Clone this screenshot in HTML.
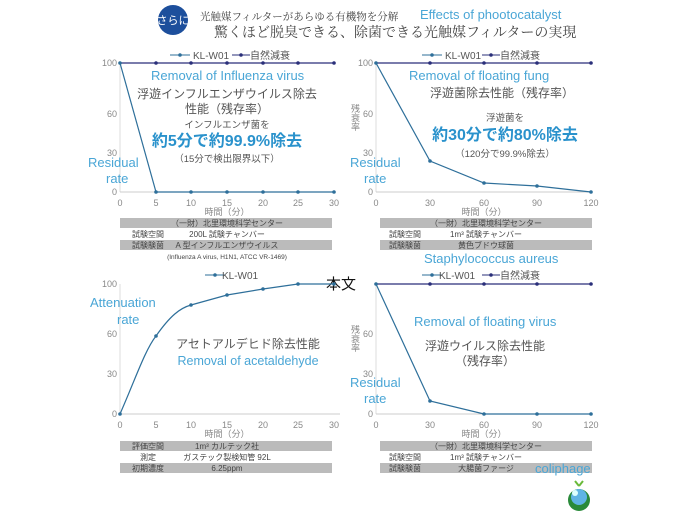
<!DOCTYPE html>
<html><head><meta charset="utf-8"><style>
body{margin:0;background:#fff}
svg{display:block;font-family:"Liberation Sans","Noto Sans CJK JP",sans-serif}
.t{fill:#888;font-size:9px}
.g{fill:#555}
.lb{fill:#4aa6d6}
</style></head><body>
<svg width="688" height="516" viewBox="0 0 688 516">
<circle cx="173" cy="20" r="15" fill="#1d4f9c"/>
<text x="173" y="24" font-size="11" fill="#fff" text-anchor="middle">さらに</text>
<text x="200" y="20" font-size="10.5" fill="#444" font-family="'Noto Serif CJK SC',serif">光触媒フィルターがあらゆる有機物を分解</text>
<text x="214" y="37" font-size="14" fill="#444" font-family="'Noto Serif CJK SC',serif">驚くほど脱臭できる、除菌できる光触媒フィルターの実現</text>
<text x="420" y="19" font-size="13" class="lb">Effects of phootocatalyst</text>

<!-- Chart 1 -->
<g>
<line x1="170" y1="55" x2="190" y2="55" stroke="#2e6f9a"/><circle cx="180" cy="55" r="1.8" fill="#2e6f9a"/>
<text x="193" y="59" font-size="10" class="g">KL-W01</text>
<line x1="232" y1="55" x2="250" y2="55" stroke="#2a2f7a"/><circle cx="241" cy="55" r="1.8" fill="#2a2f7a"/>
<text x="250" y="59" font-size="10" class="g">自然減衰</text>
<line x1="120" y1="63" x2="120" y2="192" stroke="#ddd"/>
<line x1="120" y1="192" x2="334" y2="192" stroke="#ccc"/>
<text x="117" y="66" class="t" text-anchor="end">100</text>
<text x="117" y="117" class="t" text-anchor="end">60</text>
<text x="117" y="156" class="t" text-anchor="end">30</text>
<text x="117" y="195" class="t" text-anchor="end">0</text>
<g class="t" text-anchor="middle"><text x="120" y="206">0</text><text x="156" y="206">5</text><text x="191" y="206">10</text><text x="227" y="206">15</text><text x="263" y="206">20</text><text x="298" y="206">25</text><text x="334" y="206">30</text><text x="227" y="215">時間（分）</text></g>
<polyline points="120,63 156,63 191,63 227,63 263,63 298,63 334,63" fill="none" stroke="#2a2f7a" stroke-width="1.2"/>
<polyline points="120,63 156,192 191,192 227,192 263,192 298,192 334,192" fill="none" stroke="#2e6f9a" stroke-width="1.2"/>
<g fill="#2a2f7a"><circle cx="156" cy="63" r="1.8"/><circle cx="191" cy="63" r="1.8"/><circle cx="227" cy="63" r="1.8"/><circle cx="263" cy="63" r="1.8"/><circle cx="298" cy="63" r="1.8"/><circle cx="334" cy="63" r="1.8"/></g>
<g fill="#2e6f9a"><circle cx="120" cy="63" r="1.8"/><circle cx="156" cy="192" r="1.8"/><circle cx="191" cy="192" r="1.8"/><circle cx="227" cy="192" r="1.8"/><circle cx="263" cy="192" r="1.8"/><circle cx="298" cy="192" r="1.8"/><circle cx="334" cy="192" r="1.8"/></g>
<text x="151" y="80" font-size="13" class="lb">Removal of Influenza virus</text>
<text x="227" y="98" font-size="12" class="g" text-anchor="middle">浮遊インフルエンザウイルス除去</text>
<text x="227" y="113" font-size="12" class="g" text-anchor="middle">性能（残存率）</text>
<text x="227" y="128" font-size="9.5" class="g" text-anchor="middle">インフルエンザ菌を</text>
<text x="227" y="146" font-size="16" font-weight="bold" fill="#2a92cc" text-anchor="middle">約5分で約99.9%除去</text>
<text x="227" y="162" font-size="9.5" class="g" text-anchor="middle">（15分で検出限界以下）</text>
<text x="88" y="167" font-size="13" class="lb">Residual</text>
<text x="106" y="183" font-size="13" class="lb">rate</text>
<rect x="120" y="218" width="212" height="10" fill="#bbb"/><rect x="120" y="240" width="212" height="10" fill="#bbb"/>
<g font-size="8" fill="#444" text-anchor="middle"><text x="227" y="226">（一財）北里環境科学センター</text><text x="148" y="237">試験空間</text><text x="227" y="237">200L 試験チャンバー</text><text x="148" y="248">試験験菌</text><text x="227" y="248">A 型インフルエンザウイルス</text><text x="227" y="259" font-size="6.5">(Influenza A virus, H1N1, ATCC VR-1469)</text></g>
</g>

<!-- Chart 2 -->
<g>
<line x1="422" y1="55" x2="442" y2="55" stroke="#2e6f9a"/><circle cx="432" cy="55" r="1.8" fill="#2e6f9a"/>
<text x="445" y="59" font-size="10" class="g">KL-W01</text>
<line x1="482" y1="55" x2="500" y2="55" stroke="#2a2f7a"/><circle cx="491" cy="55" r="1.8" fill="#2a2f7a"/>
<text x="500" y="59" font-size="10" class="g">自然減衰</text>
<line x1="376" y1="63" x2="376" y2="192" stroke="#ddd"/>
<line x1="376" y1="192" x2="591" y2="192" stroke="#ccc"/>
<text x="373" y="66" class="t" text-anchor="end">100</text>
<text x="373" y="117" class="t" text-anchor="end">60</text>
<text x="373" y="156" class="t" text-anchor="end">30</text>
<text x="373" y="195" class="t" text-anchor="end">0</text>
<text x="351" y="112" font-size="8" class="t">残</text><text x="351" y="121" font-size="8" class="t">衰</text><text x="351" y="130" font-size="8" class="t">率</text>
<g class="t" text-anchor="middle"><text x="376" y="206">0</text><text x="430" y="206">30</text><text x="484" y="206">60</text><text x="537" y="206">90</text><text x="591" y="206">120</text><text x="484" y="215">時間（分）</text></g>
<polyline points="376,63 430,63 484,63 537,63 591,63" fill="none" stroke="#2a2f7a" stroke-width="1.2"/>
<polyline points="376,63 430,161 484,183 537,186 591,192" fill="none" stroke="#2e6f9a" stroke-width="1.2"/>
<g fill="#2a2f7a"><circle cx="430" cy="63" r="1.8"/><circle cx="484" cy="63" r="1.8"/><circle cx="537" cy="63" r="1.8"/><circle cx="591" cy="63" r="1.8"/></g>
<g fill="#2e6f9a"><circle cx="376" cy="63" r="1.8"/><circle cx="430" cy="161" r="1.8"/><circle cx="484" cy="183" r="1.8"/><circle cx="537" cy="186" r="1.8"/><circle cx="591" cy="192" r="1.8"/></g>
<text x="409" y="80" font-size="13" class="lb">Removal of floating fung</text>
<text x="502" y="97" font-size="12" class="g" text-anchor="middle">浮遊菌除去性能（残存率）</text>
<text x="505" y="121" font-size="9.5" class="g" text-anchor="middle">浮遊菌を</text>
<text x="505" y="140" font-size="16" font-weight="bold" fill="#2a92cc" text-anchor="middle">約30分で約80%除去</text>
<text x="505" y="157" font-size="9.5" class="g" text-anchor="middle">（120分で99.9%除去）</text>
<text x="350" y="167" font-size="13" class="lb">Residual</text>
<text x="364" y="183" font-size="13" class="lb">rate</text>
<rect x="380" y="218" width="212" height="10" fill="#bbb"/><rect x="380" y="240" width="212" height="10" fill="#bbb"/>
<g font-size="8" fill="#444" text-anchor="middle"><text x="486" y="226">（一財）北里環境科学センター</text><text x="405" y="237">試験空間</text><text x="486" y="237">1m³ 試験チャンバー</text><text x="405" y="248">試験験菌</text><text x="486" y="248">黄色ブドウ球菌</text></g>
<text x="424" y="263" font-size="13" class="lb">Staphylococcus aureus</text>
</g>

<!-- Chart 3 -->
<g>
<line x1="205" y1="275" x2="225" y2="275" stroke="#2e6f9a"/><circle cx="215" cy="275" r="1.8" fill="#2e6f9a"/>
<text x="222" y="279" font-size="10" class="g">KL-W01</text>
<text x="326" y="289" font-size="15" fill="#111">本文</text>
<line x1="120" y1="284" x2="120" y2="414" stroke="#ddd"/>
<line x1="120" y1="414" x2="340" y2="414" stroke="#ccc"/>
<text x="117" y="287" class="t" text-anchor="end">100</text>
<text x="117" y="337" class="t" text-anchor="end">60</text>
<text x="117" y="377" class="t" text-anchor="end">30</text>
<text x="117" y="417" class="t" text-anchor="end">0</text>
<g class="t" text-anchor="middle"><text x="120" y="428">0</text><text x="156" y="428">5</text><text x="191" y="428">10</text><text x="227" y="428">15</text><text x="263" y="428">20</text><text x="298" y="428">25</text><text x="334" y="428">30</text><text x="227" y="437">時間（分）</text></g>
<path d="M120,414 C135,380 145,350 156,336 C170,316 180,308 191,305 L227,295 L263,289 L298,284 L334,284" fill="none" stroke="#2e6f9a" stroke-width="1.2"/>
<g fill="#2e6f9a"><circle cx="120" cy="414" r="1.8"/><circle cx="156" cy="336" r="1.8"/><circle cx="191" cy="305" r="1.8"/><circle cx="227" cy="295" r="1.8"/><circle cx="263" cy="289" r="1.8"/><circle cx="298" cy="284" r="1.8"/><circle cx="334" cy="284" r="1.8"/></g>
<text x="90" y="307" font-size="13" class="lb">Attenuation</text>
<text x="117" y="324" font-size="13" class="lb">rate</text>
<text x="248" y="348" font-size="12" class="g" text-anchor="middle">アセトアルデヒド除去性能</text>
<text x="248" y="365" font-size="12.5" class="lb" text-anchor="middle">Removal of acetaldehyde</text>
<rect x="120" y="441" width="212" height="10" fill="#bbb"/><rect x="120" y="463" width="212" height="10" fill="#bbb"/>
<g font-size="8" fill="#444" text-anchor="middle"><text x="148" y="449">評価空間</text><text x="227" y="449">1m³ カルテック社</text><text x="148" y="460">測定</text><text x="227" y="460">ガステック製検知管 92L</text><text x="148" y="471">初期濃度</text><text x="227" y="471">6.25ppm</text></g>
</g>

<!-- Chart 4 -->
<g>
<line x1="422" y1="275" x2="442" y2="275" stroke="#2e6f9a"/><circle cx="432" cy="275" r="1.8" fill="#2e6f9a"/>
<text x="439" y="279" font-size="10" class="g">KL-W01</text>
<line x1="482" y1="275" x2="500" y2="275" stroke="#2a2f7a"/><circle cx="491" cy="275" r="1.8" fill="#2a2f7a"/>
<text x="500" y="279" font-size="10" class="g">自然減衰</text>
<line x1="376" y1="284" x2="376" y2="414" stroke="#ddd"/>
<line x1="376" y1="414" x2="591" y2="414" stroke="#ccc"/>
<text x="373" y="337" class="t" text-anchor="end">60</text>
<text x="373" y="377" class="t" text-anchor="end">30</text>
<text x="373" y="417" class="t" text-anchor="end">0</text>
<text x="351" y="333" font-size="8" class="t">残</text><text x="351" y="342" font-size="8" class="t">衰</text><text x="351" y="351" font-size="8" class="t">率</text>
<g class="t" text-anchor="middle"><text x="376" y="428">0</text><text x="430" y="428">30</text><text x="484" y="428">60</text><text x="537" y="428">90</text><text x="591" y="428">120</text><text x="484" y="437">時間（分）</text></g>
<polyline points="376,284 430,284 484,284 537,284 591,284" fill="none" stroke="#2a2f7a" stroke-width="1.2"/>
<polyline points="376,284 430,401 484,414 537,414 591,414" fill="none" stroke="#2e6f9a" stroke-width="1.2"/>
<g fill="#2a2f7a"><circle cx="430" cy="284" r="1.8"/><circle cx="484" cy="284" r="1.8"/><circle cx="537" cy="284" r="1.8"/><circle cx="591" cy="284" r="1.8"/></g>
<g fill="#2e6f9a"><circle cx="376" cy="284" r="1.8"/><circle cx="430" cy="401" r="1.8"/><circle cx="484" cy="414" r="1.8"/><circle cx="537" cy="414" r="1.8"/><circle cx="591" cy="414" r="1.8"/></g>
<text x="414" y="326" font-size="13" class="lb">Removal of floating virus</text>
<text x="485" y="350" font-size="12" class="g" text-anchor="middle">浮遊ウイルス除去性能</text>
<text x="485" y="365" font-size="12" class="g" text-anchor="middle">（残存率）</text>
<text x="350" y="387" font-size="13" class="lb">Residual</text>
<text x="364" y="403" font-size="13" class="lb">rate</text>
<rect x="380" y="441" width="212" height="10" fill="#bbb"/><rect x="380" y="463" width="212" height="10" fill="#bbb"/>
<g font-size="8" fill="#444" text-anchor="middle"><text x="486" y="449">（一財）北里環境科学センター</text><text x="405" y="460">試験空間</text><text x="486" y="460">1m³ 試験チャンバー</text><text x="405" y="471">試験験菌</text><text x="486" y="471">大腸菌ファージ</text></g>
<text x="535" y="473" font-size="13" class="lb">coliphage</text>
<circle cx="579" cy="500" r="11" fill="#2a8a3a"/><circle cx="579" cy="497" r="8" fill="#5fb4e4"/><circle cx="575" cy="493" r="3" fill="#dff"/>
<path d="M579,486 l-4,-5 M579,486 l4,-5" stroke="#6aba3a" stroke-width="2"/>
</g>
</svg>
</body></html>
